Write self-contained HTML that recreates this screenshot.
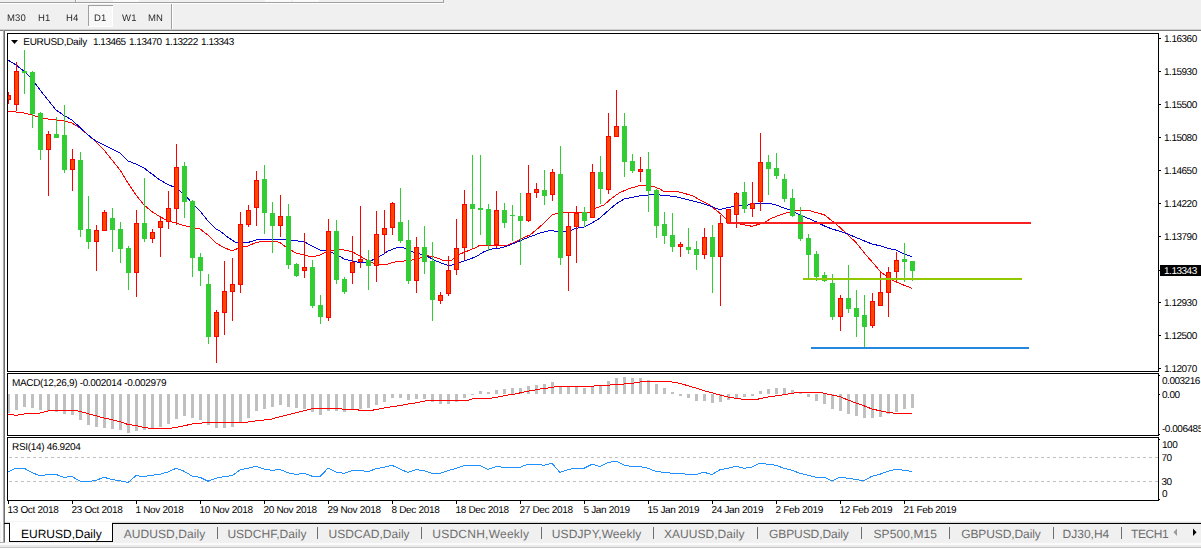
<!DOCTYPE html>
<html><head><meta charset="utf-8"><title>EURUSD,Daily</title>
<style>
html,body{margin:0;padding:0;}
body{width:1201px;height:549px;overflow:hidden;background:#f0f0f0;position:relative;font-family:"Liberation Sans",sans-serif;}
svg{position:absolute;left:0;top:0;}
.t{position:absolute;white-space:nowrap;line-height:1;font-family:"Liberation Sans",sans-serif;transform-origin:0 0;text-rendering:geometricPrecision;}
</style></head><body>
<svg width="1201" height="549" viewBox="0 0 1201 549">
<rect x="0" y="0" width="1201" height="549" fill="#f0f0f0"/>
<rect x="0" y="2" width="444" height="1" fill="#a0a0a0"/>
<rect x="0" y="3" width="444" height="1" fill="#ffffff"/>
<rect x="75" y="0" width="1" height="2" fill="#a0a0a0"/>
<rect x="76" y="0" width="1" height="2" fill="#ffffff"/>
<rect x="443" y="0" width="1" height="2" fill="#a0a0a0"/>
<rect x="113" y="0" width="26" height="2" fill="#fafafa"/>
<rect x="265" y="0" width="26" height="2" fill="#fafafa"/>
<rect x="293" y="0" width="26" height="2" fill="#fafafa"/>
<rect x="88" y="5" width="25" height="22" fill="#f8f8f8"/>
<rect x="88" y="5" width="25" height="1" fill="#a0a0a0"/>
<rect x="88" y="5" width="1" height="22" fill="#a0a0a0"/>
<rect x="88" y="26" width="25" height="1" fill="#ffffff"/>
<rect x="112" y="6" width="1" height="21" fill="#ffffff"/>
<rect x="171" y="4" width="1" height="25" fill="#a0a0a0"/>
<rect x="172" y="4" width="1" height="25" fill="#ffffff"/>
<rect x="0" y="29" width="1201" height="1" fill="#cfcfcf"/>
<rect x="0" y="30" width="1201" height="1" fill="#7a7a7a"/>
<rect x="0" y="31" width="1201" height="491" fill="#ffffff"/>
<rect x="1" y="31" width="2" height="511" fill="#fbfbfb"/>
<rect x="3" y="30" width="1" height="512" fill="#a8a8a8"/>
<rect x="4" y="31" width="1" height="511" fill="#6e6e6e"/>
<rect x="5" y="521" width="1196" height="1" fill="#f4f4f4"/>
<rect x="5" y="522" width="1196" height="1" fill="#d8d8d8"/>
<rect x="5" y="523" width="1196" height="26" fill="#f0f0f0"/>
<rect x="5" y="523" width="5" height="19" fill="#ffffff"/>
<rect x="4" y="523" width="6" height="1" fill="#000"/>
<rect x="112" y="523" width="1089" height="1" fill="#000"/>
<rect x="10" y="522" width="102" height="19" fill="#ffffff"/>
<rect x="9" y="523" width="1" height="19" fill="#000"/>
<rect x="112" y="523" width="1" height="19" fill="#000"/>
<rect x="9" y="541" width="104" height="1" fill="#000"/>
<rect x="0" y="542" width="5" height="1" fill="#b0b0b0"/>
<rect x="0" y="543" width="1201" height="2" fill="#fbfbfb"/>
<rect x="0" y="545" width="1201" height="2" fill="#eaeaea"/>
<rect x="0" y="547" width="1201" height="1" fill="#c4c4c4"/>
<rect x="0" y="548" width="1201" height="1" fill="#ffffff"/>
<rect x="217" y="527" width="1" height="12" fill="#6e6e6e"/>
<rect x="317" y="527" width="1" height="12" fill="#6e6e6e"/>
<rect x="421" y="527" width="1" height="12" fill="#6e6e6e"/>
<rect x="541" y="527" width="1" height="12" fill="#6e6e6e"/>
<rect x="653" y="527" width="1" height="12" fill="#6e6e6e"/>
<rect x="757" y="527" width="1" height="12" fill="#6e6e6e"/>
<rect x="861" y="527" width="1" height="12" fill="#6e6e6e"/>
<rect x="949" y="527" width="1" height="12" fill="#6e6e6e"/>
<rect x="1053" y="527" width="1" height="12" fill="#6e6e6e"/>
<rect x="1121" y="527" width="1" height="12" fill="#6e6e6e"/>
<path d="M1177 528.5 L1177 536 L1173.5 532.2 Z" fill="#9a9a9a"/>
<path d="M1193 528.5 L1193 536 L1196.5 532.2 Z" fill="#000"/>
<rect x="7" y="33" width="1152" height="1" fill="#000"/>
<rect x="7" y="371" width="1152" height="1" fill="#000"/>
<rect x="7" y="373" width="1152" height="1" fill="#000"/>
<rect x="7" y="435" width="1152" height="1" fill="#000"/>
<rect x="7" y="437" width="1152" height="1" fill="#000"/>
<rect x="7" y="500" width="1152" height="1" fill="#000"/>
<rect x="7" y="33" width="1" height="339" fill="#000"/>
<rect x="7" y="373" width="1" height="63" fill="#000"/>
<rect x="7" y="437" width="1" height="64" fill="#000"/>
<rect x="1158" y="33" width="1" height="339" fill="#000"/>
<rect x="1158" y="373" width="1" height="63" fill="#000"/>
<rect x="1158" y="437" width="1" height="64" fill="#000"/>
<rect x="1159" y="38" width="2" height="1" fill="#000"/>
<rect x="1159" y="71" width="2" height="1" fill="#000"/>
<rect x="1159" y="104" width="2" height="1" fill="#000"/>
<rect x="1159" y="137" width="2" height="1" fill="#000"/>
<rect x="1159" y="170" width="2" height="1" fill="#000"/>
<rect x="1159" y="203" width="2" height="1" fill="#000"/>
<rect x="1159" y="236" width="2" height="1" fill="#000"/>
<rect x="1159" y="302" width="2" height="1" fill="#000"/>
<rect x="1159" y="335" width="2" height="1" fill="#000"/>
<rect x="1159" y="368" width="2" height="1" fill="#000"/>
<rect x="1159" y="270" width="2" height="1" fill="#000"/>
<rect x="1159" y="375" width="1" height="1" fill="#000"/>
<rect x="1159" y="394" width="1" height="1" fill="#000"/>
<rect x="1159" y="434" width="1" height="1" fill="#000"/>
<rect x="1159" y="439" width="1" height="1" fill="#000"/>
<rect x="1159" y="499" width="1" height="1" fill="#000"/>
<rect x="8" y="501" width="1" height="3" fill="#000"/>
<rect x="72" y="501" width="1" height="3" fill="#000"/>
<rect x="136" y="501" width="1" height="3" fill="#000"/>
<rect x="200" y="501" width="1" height="3" fill="#000"/>
<rect x="264" y="501" width="1" height="3" fill="#000"/>
<rect x="328" y="501" width="1" height="3" fill="#000"/>
<rect x="392" y="501" width="1" height="3" fill="#000"/>
<rect x="456" y="501" width="1" height="3" fill="#000"/>
<rect x="520" y="501" width="1" height="3" fill="#000"/>
<rect x="584" y="501" width="1" height="3" fill="#000"/>
<rect x="648" y="501" width="1" height="3" fill="#000"/>
<rect x="712" y="501" width="1" height="3" fill="#000"/>
<rect x="776" y="501" width="1" height="3" fill="#000"/>
<rect x="840" y="501" width="1" height="3" fill="#000"/>
<rect x="904" y="501" width="1" height="3" fill="#000"/>
<path d="M11 40 L18 40 L14.5 44 Z" fill="#000"/>
<g shape-rendering="crispEdges">
<rect x="8" y="394" width="2" height="19" fill="#c0c0c0"/>
<rect x="15" y="394" width="3" height="16" fill="#c0c0c0"/>
<rect x="23" y="394" width="3" height="13" fill="#c0c0c0"/>
<rect x="31" y="394" width="3" height="14" fill="#c0c0c0"/>
<rect x="39" y="394" width="3" height="16" fill="#c0c0c0"/>
<rect x="47" y="394" width="3" height="17" fill="#c0c0c0"/>
<rect x="55" y="394" width="3" height="18" fill="#c0c0c0"/>
<rect x="63" y="394" width="3" height="20" fill="#c0c0c0"/>
<rect x="71" y="394" width="3" height="21" fill="#c0c0c0"/>
<rect x="79" y="394" width="3" height="26" fill="#c0c0c0"/>
<rect x="87" y="394" width="3" height="31" fill="#c0c0c0"/>
<rect x="95" y="394" width="3" height="33" fill="#c0c0c0"/>
<rect x="103" y="394" width="3" height="34" fill="#c0c0c0"/>
<rect x="111" y="394" width="3" height="35" fill="#c0c0c0"/>
<rect x="119" y="394" width="3" height="36" fill="#c0c0c0"/>
<rect x="127" y="394" width="3" height="39" fill="#c0c0c0"/>
<rect x="135" y="394" width="3" height="37" fill="#c0c0c0"/>
<rect x="143" y="394" width="3" height="36" fill="#c0c0c0"/>
<rect x="151" y="394" width="3" height="34" fill="#c0c0c0"/>
<rect x="159" y="394" width="3" height="33" fill="#c0c0c0"/>
<rect x="167" y="394" width="3" height="30" fill="#c0c0c0"/>
<rect x="175" y="394" width="3" height="25" fill="#c0c0c0"/>
<rect x="183" y="394" width="3" height="22" fill="#c0c0c0"/>
<rect x="191" y="394" width="3" height="24" fill="#c0c0c0"/>
<rect x="199" y="394" width="3" height="26" fill="#c0c0c0"/>
<rect x="207" y="394" width="3" height="31" fill="#c0c0c0"/>
<rect x="215" y="394" width="3" height="34" fill="#c0c0c0"/>
<rect x="223" y="394" width="3" height="34" fill="#c0c0c0"/>
<rect x="231" y="394" width="3" height="33" fill="#c0c0c0"/>
<rect x="239" y="394" width="3" height="28" fill="#c0c0c0"/>
<rect x="247" y="394" width="3" height="24" fill="#c0c0c0"/>
<rect x="255" y="394" width="3" height="17" fill="#c0c0c0"/>
<rect x="263" y="394" width="3" height="15" fill="#c0c0c0"/>
<rect x="271" y="394" width="3" height="13" fill="#c0c0c0"/>
<rect x="279" y="394" width="3" height="11" fill="#c0c0c0"/>
<rect x="287" y="394" width="3" height="13" fill="#c0c0c0"/>
<rect x="295" y="394" width="3" height="14" fill="#c0c0c0"/>
<rect x="303" y="394" width="3" height="15" fill="#c0c0c0"/>
<rect x="311" y="394" width="3" height="18" fill="#c0c0c0"/>
<rect x="319" y="394" width="3" height="21" fill="#c0c0c0"/>
<rect x="327" y="394" width="3" height="17" fill="#c0c0c0"/>
<rect x="335" y="394" width="3" height="17" fill="#c0c0c0"/>
<rect x="343" y="394" width="3" height="18" fill="#c0c0c0"/>
<rect x="351" y="394" width="3" height="16" fill="#c0c0c0"/>
<rect x="359" y="394" width="3" height="15" fill="#c0c0c0"/>
<rect x="367" y="394" width="3" height="14" fill="#c0c0c0"/>
<rect x="375" y="394" width="3" height="11" fill="#c0c0c0"/>
<rect x="383" y="394" width="3" height="8" fill="#c0c0c0"/>
<rect x="391" y="394" width="3" height="4" fill="#c0c0c0"/>
<rect x="399" y="394" width="3" height="4" fill="#c0c0c0"/>
<rect x="407" y="394" width="3" height="6" fill="#c0c0c0"/>
<rect x="415" y="394" width="3" height="5" fill="#c0c0c0"/>
<rect x="423" y="394" width="3" height="5" fill="#c0c0c0"/>
<rect x="431" y="394" width="3" height="8" fill="#c0c0c0"/>
<rect x="439" y="394" width="3" height="10" fill="#c0c0c0"/>
<rect x="447" y="394" width="3" height="10" fill="#c0c0c0"/>
<rect x="455" y="394" width="3" height="8" fill="#c0c0c0"/>
<rect x="463" y="394" width="3" height="4" fill="#c0c0c0"/>
<rect x="471" y="394" width="3" height="1" fill="#c0c0c0"/>
<rect x="479" y="391" width="3" height="3" fill="#c0c0c0"/>
<rect x="487" y="392" width="3" height="2" fill="#c0c0c0"/>
<rect x="495" y="390" width="3" height="4" fill="#c0c0c0"/>
<rect x="503" y="389" width="3" height="5" fill="#c0c0c0"/>
<rect x="511" y="388" width="3" height="6" fill="#c0c0c0"/>
<rect x="519" y="388" width="3" height="6" fill="#c0c0c0"/>
<rect x="527" y="386" width="3" height="8" fill="#c0c0c0"/>
<rect x="535" y="385" width="3" height="9" fill="#c0c0c0"/>
<rect x="543" y="384" width="3" height="10" fill="#c0c0c0"/>
<rect x="551" y="382" width="3" height="12" fill="#c0c0c0"/>
<rect x="559" y="387" width="3" height="7" fill="#c0c0c0"/>
<rect x="567" y="387" width="3" height="7" fill="#c0c0c0"/>
<rect x="575" y="387" width="3" height="7" fill="#c0c0c0"/>
<rect x="583" y="388" width="3" height="6" fill="#c0c0c0"/>
<rect x="591" y="387" width="3" height="7" fill="#c0c0c0"/>
<rect x="599" y="386" width="3" height="8" fill="#c0c0c0"/>
<rect x="607" y="381" width="3" height="13" fill="#c0c0c0"/>
<rect x="615" y="378" width="3" height="16" fill="#c0c0c0"/>
<rect x="623" y="377" width="3" height="17" fill="#c0c0c0"/>
<rect x="631" y="378" width="3" height="16" fill="#c0c0c0"/>
<rect x="639" y="378" width="3" height="16" fill="#c0c0c0"/>
<rect x="647" y="380" width="3" height="14" fill="#c0c0c0"/>
<rect x="655" y="384" width="3" height="10" fill="#c0c0c0"/>
<rect x="663" y="388" width="3" height="6" fill="#c0c0c0"/>
<rect x="671" y="392" width="3" height="2" fill="#c0c0c0"/>
<rect x="679" y="394" width="3" height="2" fill="#c0c0c0"/>
<rect x="687" y="394" width="3" height="4" fill="#c0c0c0"/>
<rect x="695" y="394" width="3" height="7" fill="#c0c0c0"/>
<rect x="703" y="394" width="3" height="7" fill="#c0c0c0"/>
<rect x="711" y="394" width="3" height="9" fill="#c0c0c0"/>
<rect x="719" y="394" width="3" height="8" fill="#c0c0c0"/>
<rect x="727" y="394" width="3" height="6" fill="#c0c0c0"/>
<rect x="735" y="394" width="3" height="4" fill="#c0c0c0"/>
<rect x="743" y="394" width="3" height="3" fill="#c0c0c0"/>
<rect x="751" y="394" width="3" height="2" fill="#c0c0c0"/>
<rect x="759" y="391" width="3" height="3" fill="#c0c0c0"/>
<rect x="767" y="389" width="3" height="5" fill="#c0c0c0"/>
<rect x="775" y="388" width="3" height="6" fill="#c0c0c0"/>
<rect x="783" y="388" width="3" height="6" fill="#c0c0c0"/>
<rect x="791" y="390" width="3" height="4" fill="#c0c0c0"/>
<rect x="799" y="393" width="3" height="1" fill="#c0c0c0"/>
<rect x="807" y="394" width="3" height="3" fill="#c0c0c0"/>
<rect x="815" y="394" width="3" height="7" fill="#c0c0c0"/>
<rect x="823" y="394" width="3" height="10" fill="#c0c0c0"/>
<rect x="831" y="394" width="3" height="15" fill="#c0c0c0"/>
<rect x="839" y="394" width="3" height="17" fill="#c0c0c0"/>
<rect x="847" y="394" width="3" height="20" fill="#c0c0c0"/>
<rect x="855" y="394" width="3" height="22" fill="#c0c0c0"/>
<rect x="863" y="394" width="3" height="24" fill="#c0c0c0"/>
<rect x="871" y="394" width="3" height="24" fill="#c0c0c0"/>
<rect x="879" y="394" width="3" height="23" fill="#c0c0c0"/>
<rect x="887" y="394" width="3" height="20" fill="#c0c0c0"/>
<rect x="895" y="394" width="3" height="18" fill="#c0c0c0"/>
<rect x="903" y="394" width="3" height="15" fill="#c0c0c0"/>
<rect x="911" y="394" width="3" height="14" fill="#c0c0c0"/>
<line x1="9" y1="457.5" x2="1158" y2="457.5" stroke="#c0c0c0" stroke-width="1" stroke-dasharray="3 3"/>
<line x1="9" y1="481.5" x2="1158" y2="481.5" stroke="#c0c0c0" stroke-width="1" stroke-dasharray="3 3"/>
</g>
<polyline points="8,111.0 16,112.0 24,113.0 32,115.0 40,117.5 48,119.0 56,120.0 64,121.0 72,123.0 80,128.0 88,135.0 96,141.7 104,150.0 112,160.0 120,170.0 128,183.0 136,195.0 144,205.0 152,211.7 160,216.7 168,221.0 176,223.0 184,225.5 192,227.5 200,229.0 208,235.0 216,243.0 224,247.5 232,251.0 240,247.5 248,246.0 256,242.5 264,241.0 272,241.5 276,241.5 280,242.5 284,245.5 288,248.5 296,253.0 304,255.0 312,257.0 320,255.0 328,251.0 336,249.7 344,250.0 352,251.7 360,256.0 368,261.0 376,264.0 384,264.5 388,264.0 396,261.7 404,261.0 412,260.0 420,258.0 428,255.8 436,257.5 444,260.8 452,260.0 460,254.0 468,250.8 476,247.5 480,245.0 488,245.0 496,245.0 504,245.8 508,245.0 516,241.7 524,237.5 530,235.0 540,226.7 547,220.0 552.5,214.5 558,213.3 563,212.5 590,212.5 596,208.0 604,205.0 612,198.0 620,192.5 628,189.0 636,186.7 640,185.5 648,185.3 654,186.7 660,189.0 664,191.7 668,191.3 676,191.3 684,193.3 692,195.5 700,200.0 708,204.0 716,210.0 722,215.0 726,219.0 730,222.5 740,224.0 752,226.3 760,224.0 764,222.5 772,218.0 780,215.0 788,212.5 796,210.5 804,210.3 810,210.8 816,212.5 824,214.7 832,220.8 840,227.5 848,235.0 856,242.5 864,252.5 872,261.8 880,271.0 884,274.6 888,276.5 892,280.0 896,282.0 900,283.5 904,285.2 908,286.6 912,288.5" fill="none" stroke="#ff0000" stroke-width="1" stroke-linejoin="round" shape-rendering="crispEdges"/>
<polyline points="8,60.0 16,65.0 24,71.0 32,79.0 40,90.0 48,100.0 56,110.0 64,115.5 72,120.0 80,127.5 88,135.0 96,141.0 104,145.0 112,149.0 120,153.0 128,161.0 136,164.0 144,168.0 152,174.0 160,180.0 168,184.5 176,188.0 184,194.0 192,203.0 200,211.0 208,221.0 216,229.0 220,231.0 228,237.5 236,242.5 240,243.0 248,242.5 256,240.0 264,239.7 272,239.7 280,239.0 288,240.0 296,240.8 304,241.7 312,246.0 320,250.0 328,251.0 336,254.0 344,259.0 352,261.0 360,262.5 368,262.5 376,258.0 384,254.0 388,251.0 396,248.0 400,247.0 404,248.0 412,251.7 420,254.0 428,256.7 436,261.0 444,264.0 448,265.3 452,265.0 460,262.5 468,259.7 476,256.7 484,251.7 492,249.0 500,248.0 508,245.8 516,242.5 524,239.0 532,236.0 540,233.0 548,231.0 552,230.8 560,231.7 568,232.0 572,230.0 576,228.3 584,227.0 592,223.0 600,218.0 608,210.8 616,204.0 624,199.0 632,197.5 640,195.8 648,195.0 654,194.0 660,195.0 668,195.8 676,196.7 684,198.7 692,200.8 700,202.8 708,205.3 714,207.5 717,208.6 720,209.8 723,208.8 726,208.0 732,206.8 740,205.3 748,205.0 756,203.7 764,203.5 768,203.0 776,205.0 784,208.0 792,210.8 800,215.0 808,218.3 816,221.7 824,225.8 832,229.0 840,231.3 848,234.0 856,237.5 864,240.8 872,244.0 880,245.8 888,248.3 896,250.0 904,254.0 912,256.7" fill="none" stroke="#0000d0" stroke-width="1" stroke-linejoin="round" shape-rendering="crispEdges"/>
<g shape-rendering="crispEdges">
<rect x="8" y="92" width="1" height="12" fill="#ff0000"/>
<rect x="8" y="95" width="3" height="5" fill="#ff0000"/>
<rect x="8" y="96" width="2" height="3" fill="#ff4500"/>
<rect x="16" y="62" width="1" height="49" fill="#ff0000"/>
<rect x="14" y="71" width="5" height="34" fill="#ff0000"/>
<rect x="15" y="72" width="3" height="32" fill="#ff4500"/>
<rect x="24" y="50" width="1" height="44" fill="#32cd32"/>
<rect x="22" y="71" width="5" height="2" fill="#32cd32"/>
<rect x="32" y="71" width="1" height="57" fill="#32cd32"/>
<rect x="30" y="72" width="5" height="42" fill="#32cd32"/>
<rect x="40" y="112" width="1" height="48" fill="#32cd32"/>
<rect x="38" y="113" width="5" height="37" fill="#32cd32"/>
<rect x="48" y="131" width="1" height="65" fill="#ff0000"/>
<rect x="46" y="134" width="5" height="16" fill="#ff0000"/>
<rect x="47" y="135" width="3" height="14" fill="#ff4500"/>
<rect x="56" y="117" width="1" height="21" fill="#32cd32"/>
<rect x="54" y="134" width="5" height="4" fill="#32cd32"/>
<rect x="64" y="105" width="1" height="68" fill="#32cd32"/>
<rect x="62" y="135" width="5" height="35" fill="#32cd32"/>
<rect x="72" y="149" width="1" height="42" fill="#ff0000"/>
<rect x="70" y="159" width="5" height="11" fill="#ff0000"/>
<rect x="71" y="160" width="3" height="9" fill="#ff4500"/>
<rect x="80" y="152" width="1" height="85" fill="#32cd32"/>
<rect x="78" y="160" width="5" height="70" fill="#32cd32"/>
<rect x="88" y="196" width="1" height="53" fill="#32cd32"/>
<rect x="86" y="229" width="5" height="13" fill="#32cd32"/>
<rect x="96" y="225" width="1" height="46" fill="#ff0000"/>
<rect x="94" y="230" width="5" height="12" fill="#ff0000"/>
<rect x="95" y="231" width="3" height="10" fill="#ff4500"/>
<rect x="104" y="210" width="1" height="21" fill="#ff0000"/>
<rect x="102" y="212" width="5" height="19" fill="#ff0000"/>
<rect x="103" y="213" width="3" height="17" fill="#ff4500"/>
<rect x="112" y="208" width="1" height="44" fill="#32cd32"/>
<rect x="110" y="218" width="5" height="12" fill="#32cd32"/>
<rect x="120" y="222" width="1" height="41" fill="#32cd32"/>
<rect x="118" y="229" width="5" height="20" fill="#32cd32"/>
<rect x="128" y="246" width="1" height="44" fill="#32cd32"/>
<rect x="126" y="248" width="5" height="25" fill="#32cd32"/>
<rect x="136" y="210" width="1" height="87" fill="#ff0000"/>
<rect x="134" y="223" width="5" height="50" fill="#ff0000"/>
<rect x="135" y="224" width="3" height="48" fill="#ff4500"/>
<rect x="144" y="178" width="1" height="64" fill="#32cd32"/>
<rect x="142" y="223" width="5" height="16" fill="#32cd32"/>
<rect x="152" y="229" width="1" height="14" fill="#ff0000"/>
<rect x="150" y="232" width="5" height="7" fill="#ff0000"/>
<rect x="151" y="233" width="3" height="5" fill="#ff4500"/>
<rect x="160" y="218" width="1" height="39" fill="#ff0000"/>
<rect x="158" y="221" width="5" height="7" fill="#ff0000"/>
<rect x="159" y="222" width="3" height="5" fill="#ff4500"/>
<rect x="168" y="191" width="1" height="38" fill="#ff0000"/>
<rect x="166" y="208" width="5" height="14" fill="#ff0000"/>
<rect x="167" y="209" width="3" height="12" fill="#ff4500"/>
<rect x="176" y="144" width="1" height="81" fill="#ff0000"/>
<rect x="174" y="167" width="5" height="42" fill="#ff0000"/>
<rect x="175" y="168" width="3" height="40" fill="#ff4500"/>
<rect x="184" y="162" width="1" height="56" fill="#32cd32"/>
<rect x="182" y="166" width="5" height="36" fill="#32cd32"/>
<rect x="192" y="200" width="1" height="77" fill="#32cd32"/>
<rect x="190" y="201" width="5" height="57" fill="#32cd32"/>
<rect x="200" y="253" width="1" height="33" fill="#32cd32"/>
<rect x="198" y="257" width="5" height="14" fill="#32cd32"/>
<rect x="208" y="274" width="1" height="70" fill="#32cd32"/>
<rect x="206" y="284" width="5" height="53" fill="#32cd32"/>
<rect x="216" y="310" width="1" height="53" fill="#ff0000"/>
<rect x="214" y="312" width="5" height="25" fill="#ff0000"/>
<rect x="215" y="313" width="3" height="23" fill="#ff4500"/>
<rect x="224" y="261" width="1" height="74" fill="#ff0000"/>
<rect x="222" y="291" width="5" height="22" fill="#ff0000"/>
<rect x="223" y="292" width="3" height="20" fill="#ff4500"/>
<rect x="232" y="258" width="1" height="63" fill="#ff0000"/>
<rect x="230" y="284" width="5" height="8" fill="#ff0000"/>
<rect x="231" y="285" width="3" height="6" fill="#ff4500"/>
<rect x="240" y="212" width="1" height="81" fill="#ff0000"/>
<rect x="238" y="224" width="5" height="61" fill="#ff0000"/>
<rect x="239" y="225" width="3" height="59" fill="#ff4500"/>
<rect x="248" y="205" width="1" height="22" fill="#ff0000"/>
<rect x="246" y="210" width="5" height="15" fill="#ff0000"/>
<rect x="247" y="211" width="3" height="13" fill="#ff4500"/>
<rect x="256" y="171" width="1" height="55" fill="#ff0000"/>
<rect x="254" y="180" width="5" height="28" fill="#ff0000"/>
<rect x="255" y="181" width="3" height="26" fill="#ff4500"/>
<rect x="264" y="165" width="1" height="69" fill="#32cd32"/>
<rect x="262" y="179" width="5" height="34" fill="#32cd32"/>
<rect x="272" y="202" width="1" height="51" fill="#32cd32"/>
<rect x="270" y="213" width="5" height="13" fill="#32cd32"/>
<rect x="280" y="195" width="1" height="42" fill="#ff0000"/>
<rect x="278" y="216" width="5" height="10" fill="#ff0000"/>
<rect x="279" y="217" width="3" height="8" fill="#ff4500"/>
<rect x="288" y="204" width="1" height="65" fill="#32cd32"/>
<rect x="286" y="216" width="5" height="49" fill="#32cd32"/>
<rect x="296" y="263" width="1" height="14" fill="#32cd32"/>
<rect x="294" y="264" width="5" height="12" fill="#32cd32"/>
<rect x="304" y="233" width="1" height="45" fill="#ff0000"/>
<rect x="302" y="267" width="5" height="4" fill="#ff0000"/>
<rect x="303" y="268" width="3" height="2" fill="#ff4500"/>
<rect x="312" y="260" width="1" height="48" fill="#32cd32"/>
<rect x="310" y="267" width="5" height="39" fill="#32cd32"/>
<rect x="320" y="295" width="1" height="29" fill="#32cd32"/>
<rect x="318" y="305" width="5" height="12" fill="#32cd32"/>
<rect x="328" y="219" width="1" height="102" fill="#ff0000"/>
<rect x="326" y="231" width="5" height="87" fill="#ff0000"/>
<rect x="327" y="232" width="3" height="85" fill="#ff4500"/>
<rect x="336" y="220" width="1" height="64" fill="#32cd32"/>
<rect x="334" y="231" width="5" height="49" fill="#32cd32"/>
<rect x="344" y="277" width="1" height="17" fill="#32cd32"/>
<rect x="342" y="279" width="5" height="13" fill="#32cd32"/>
<rect x="352" y="236" width="1" height="48" fill="#ff0000"/>
<rect x="350" y="262" width="5" height="11" fill="#ff0000"/>
<rect x="351" y="263" width="3" height="9" fill="#ff4500"/>
<rect x="360" y="206" width="1" height="62" fill="#ff0000"/>
<rect x="358" y="259" width="5" height="3" fill="#ff0000"/>
<rect x="359" y="260" width="3" height="1" fill="#ff4500"/>
<rect x="368" y="250" width="1" height="40" fill="#32cd32"/>
<rect x="366" y="260" width="5" height="6" fill="#32cd32"/>
<rect x="376" y="211" width="1" height="71" fill="#ff0000"/>
<rect x="374" y="234" width="5" height="32" fill="#ff0000"/>
<rect x="375" y="235" width="3" height="30" fill="#ff4500"/>
<rect x="384" y="210" width="1" height="43" fill="#ff0000"/>
<rect x="382" y="228" width="5" height="7" fill="#ff0000"/>
<rect x="383" y="229" width="3" height="5" fill="#ff4500"/>
<rect x="392" y="202" width="1" height="33" fill="#ff0000"/>
<rect x="390" y="203" width="5" height="25" fill="#ff0000"/>
<rect x="391" y="204" width="3" height="23" fill="#ff4500"/>
<rect x="400" y="188" width="1" height="55" fill="#32cd32"/>
<rect x="398" y="222" width="5" height="19" fill="#32cd32"/>
<rect x="408" y="220" width="1" height="64" fill="#32cd32"/>
<rect x="406" y="240" width="5" height="41" fill="#32cd32"/>
<rect x="416" y="237" width="1" height="56" fill="#ff0000"/>
<rect x="414" y="247" width="5" height="34" fill="#ff0000"/>
<rect x="415" y="248" width="3" height="32" fill="#ff4500"/>
<rect x="424" y="226" width="1" height="48" fill="#32cd32"/>
<rect x="422" y="247" width="5" height="15" fill="#32cd32"/>
<rect x="432" y="242" width="1" height="79" fill="#32cd32"/>
<rect x="430" y="261" width="5" height="39" fill="#32cd32"/>
<rect x="440" y="292" width="1" height="12" fill="#ff0000"/>
<rect x="438" y="295" width="5" height="6" fill="#ff0000"/>
<rect x="439" y="296" width="3" height="4" fill="#ff4500"/>
<rect x="448" y="256" width="1" height="40" fill="#ff0000"/>
<rect x="446" y="270" width="5" height="24" fill="#ff0000"/>
<rect x="447" y="271" width="3" height="22" fill="#ff4500"/>
<rect x="456" y="219" width="1" height="56" fill="#ff0000"/>
<rect x="454" y="248" width="5" height="22" fill="#ff0000"/>
<rect x="455" y="249" width="3" height="20" fill="#ff4500"/>
<rect x="464" y="190" width="1" height="70" fill="#ff0000"/>
<rect x="462" y="204" width="5" height="44" fill="#ff0000"/>
<rect x="463" y="205" width="3" height="42" fill="#ff4500"/>
<rect x="472" y="155" width="1" height="93" fill="#32cd32"/>
<rect x="470" y="204" width="5" height="5" fill="#32cd32"/>
<rect x="480" y="155" width="1" height="80" fill="#32cd32"/>
<rect x="478" y="208" width="5" height="2" fill="#32cd32"/>
<rect x="488" y="204" width="1" height="47" fill="#32cd32"/>
<rect x="486" y="209" width="5" height="36" fill="#32cd32"/>
<rect x="496" y="191" width="1" height="57" fill="#ff0000"/>
<rect x="494" y="210" width="5" height="35" fill="#ff0000"/>
<rect x="495" y="211" width="3" height="33" fill="#ff4500"/>
<rect x="504" y="203" width="1" height="25" fill="#32cd32"/>
<rect x="502" y="210" width="5" height="13" fill="#32cd32"/>
<rect x="512" y="205" width="1" height="36" fill="#32cd32"/>
<rect x="510" y="215" width="5" height="1" fill="#32cd32"/>
<rect x="520" y="193" width="1" height="72" fill="#32cd32"/>
<rect x="518" y="216" width="5" height="5" fill="#32cd32"/>
<rect x="528" y="165" width="1" height="57" fill="#ff0000"/>
<rect x="526" y="193" width="5" height="28" fill="#ff0000"/>
<rect x="527" y="194" width="3" height="26" fill="#ff4500"/>
<rect x="536" y="183" width="1" height="15" fill="#ff0000"/>
<rect x="534" y="189" width="5" height="4" fill="#ff0000"/>
<rect x="535" y="190" width="3" height="2" fill="#ff4500"/>
<rect x="544" y="170" width="1" height="35" fill="#32cd32"/>
<rect x="542" y="190" width="5" height="6" fill="#32cd32"/>
<rect x="552" y="169" width="1" height="32" fill="#ff0000"/>
<rect x="550" y="172" width="5" height="23" fill="#ff0000"/>
<rect x="551" y="173" width="3" height="21" fill="#ff4500"/>
<rect x="560" y="146" width="1" height="119" fill="#32cd32"/>
<rect x="558" y="174" width="5" height="84" fill="#32cd32"/>
<rect x="568" y="213" width="1" height="78" fill="#ff0000"/>
<rect x="566" y="226" width="5" height="30" fill="#ff0000"/>
<rect x="567" y="227" width="3" height="28" fill="#ff4500"/>
<rect x="576" y="206" width="1" height="57" fill="#ff0000"/>
<rect x="574" y="213" width="5" height="14" fill="#ff0000"/>
<rect x="575" y="214" width="3" height="12" fill="#ff4500"/>
<rect x="584" y="207" width="1" height="20" fill="#32cd32"/>
<rect x="582" y="212" width="5" height="9" fill="#32cd32"/>
<rect x="592" y="164" width="1" height="54" fill="#ff0000"/>
<rect x="590" y="172" width="5" height="46" fill="#ff0000"/>
<rect x="591" y="173" width="3" height="44" fill="#ff4500"/>
<rect x="600" y="156" width="1" height="48" fill="#32cd32"/>
<rect x="598" y="172" width="5" height="17" fill="#32cd32"/>
<rect x="608" y="113" width="1" height="81" fill="#ff0000"/>
<rect x="606" y="136" width="5" height="54" fill="#ff0000"/>
<rect x="607" y="137" width="3" height="52" fill="#ff4500"/>
<rect x="616" y="90" width="1" height="47" fill="#ff0000"/>
<rect x="614" y="126" width="5" height="11" fill="#ff0000"/>
<rect x="615" y="127" width="3" height="9" fill="#ff4500"/>
<rect x="624" y="113" width="1" height="64" fill="#32cd32"/>
<rect x="622" y="126" width="5" height="36" fill="#32cd32"/>
<rect x="632" y="154" width="1" height="19" fill="#32cd32"/>
<rect x="630" y="161" width="5" height="10" fill="#32cd32"/>
<rect x="640" y="157" width="1" height="25" fill="#ff0000"/>
<rect x="638" y="169" width="5" height="3" fill="#ff0000"/>
<rect x="639" y="170" width="3" height="1" fill="#ff4500"/>
<rect x="648" y="152" width="1" height="60" fill="#32cd32"/>
<rect x="646" y="169" width="5" height="22" fill="#32cd32"/>
<rect x="656" y="189" width="1" height="49" fill="#32cd32"/>
<rect x="654" y="190" width="5" height="36" fill="#32cd32"/>
<rect x="664" y="212" width="1" height="32" fill="#32cd32"/>
<rect x="662" y="224" width="5" height="12" fill="#32cd32"/>
<rect x="672" y="213" width="1" height="39" fill="#32cd32"/>
<rect x="670" y="235" width="5" height="12" fill="#32cd32"/>
<rect x="680" y="242" width="1" height="15" fill="#ff0000"/>
<rect x="678" y="244" width="5" height="3" fill="#ff0000"/>
<rect x="679" y="245" width="3" height="1" fill="#ff4500"/>
<rect x="688" y="228" width="1" height="26" fill="#32cd32"/>
<rect x="686" y="247" width="5" height="3" fill="#32cd32"/>
<rect x="696" y="241" width="1" height="29" fill="#32cd32"/>
<rect x="694" y="249" width="5" height="6" fill="#32cd32"/>
<rect x="704" y="228" width="1" height="31" fill="#ff0000"/>
<rect x="702" y="237" width="5" height="18" fill="#ff0000"/>
<rect x="703" y="238" width="3" height="16" fill="#ff4500"/>
<rect x="712" y="225" width="1" height="68" fill="#32cd32"/>
<rect x="710" y="237" width="5" height="20" fill="#32cd32"/>
<rect x="720" y="215" width="1" height="91" fill="#ff0000"/>
<rect x="718" y="223" width="5" height="34" fill="#ff0000"/>
<rect x="719" y="224" width="3" height="32" fill="#ff4500"/>
<rect x="728" y="209" width="1" height="14" fill="#ff0000"/>
<rect x="726" y="209" width="5" height="14" fill="#ff0000"/>
<rect x="727" y="210" width="3" height="12" fill="#ff4500"/>
<rect x="736" y="192" width="1" height="36" fill="#ff0000"/>
<rect x="734" y="193" width="5" height="22" fill="#ff0000"/>
<rect x="735" y="194" width="3" height="20" fill="#ff4500"/>
<rect x="744" y="182" width="1" height="31" fill="#32cd32"/>
<rect x="742" y="192" width="5" height="17" fill="#32cd32"/>
<rect x="752" y="182" width="1" height="35" fill="#ff0000"/>
<rect x="750" y="203" width="5" height="6" fill="#ff0000"/>
<rect x="751" y="204" width="3" height="4" fill="#ff4500"/>
<rect x="760" y="133" width="1" height="78" fill="#ff0000"/>
<rect x="758" y="162" width="5" height="40" fill="#ff0000"/>
<rect x="759" y="163" width="3" height="38" fill="#ff4500"/>
<rect x="768" y="155" width="1" height="40" fill="#32cd32"/>
<rect x="766" y="162" width="5" height="7" fill="#32cd32"/>
<rect x="776" y="153" width="1" height="26" fill="#32cd32"/>
<rect x="774" y="168" width="5" height="8" fill="#32cd32"/>
<rect x="784" y="174" width="1" height="28" fill="#32cd32"/>
<rect x="782" y="179" width="5" height="20" fill="#32cd32"/>
<rect x="792" y="189" width="1" height="28" fill="#32cd32"/>
<rect x="790" y="198" width="5" height="18" fill="#32cd32"/>
<rect x="800" y="207" width="1" height="34" fill="#32cd32"/>
<rect x="798" y="215" width="5" height="24" fill="#32cd32"/>
<rect x="808" y="234" width="1" height="44" fill="#32cd32"/>
<rect x="806" y="238" width="5" height="17" fill="#32cd32"/>
<rect x="816" y="251" width="1" height="30" fill="#32cd32"/>
<rect x="814" y="254" width="5" height="23" fill="#32cd32"/>
<rect x="824" y="272" width="1" height="10" fill="#32cd32"/>
<rect x="822" y="275" width="5" height="6" fill="#32cd32"/>
<rect x="832" y="274" width="1" height="46" fill="#32cd32"/>
<rect x="830" y="283" width="5" height="34" fill="#32cd32"/>
<rect x="840" y="295" width="1" height="36" fill="#ff0000"/>
<rect x="838" y="298" width="5" height="19" fill="#ff0000"/>
<rect x="839" y="299" width="3" height="17" fill="#ff4500"/>
<rect x="848" y="265" width="1" height="48" fill="#32cd32"/>
<rect x="846" y="298" width="5" height="11" fill="#32cd32"/>
<rect x="856" y="290" width="1" height="47" fill="#32cd32"/>
<rect x="854" y="308" width="5" height="9" fill="#32cd32"/>
<rect x="864" y="295" width="1" height="52" fill="#32cd32"/>
<rect x="862" y="315" width="5" height="12" fill="#32cd32"/>
<rect x="872" y="293" width="1" height="35" fill="#ff0000"/>
<rect x="870" y="301" width="5" height="25" fill="#ff0000"/>
<rect x="871" y="302" width="3" height="23" fill="#ff4500"/>
<rect x="880" y="272" width="1" height="34" fill="#ff0000"/>
<rect x="878" y="292" width="5" height="14" fill="#ff0000"/>
<rect x="879" y="293" width="3" height="12" fill="#ff4500"/>
<rect x="888" y="267" width="1" height="50" fill="#ff0000"/>
<rect x="886" y="272" width="5" height="21" fill="#ff0000"/>
<rect x="887" y="273" width="3" height="19" fill="#ff4500"/>
<rect x="896" y="252" width="1" height="30" fill="#ff0000"/>
<rect x="894" y="260" width="5" height="12" fill="#ff0000"/>
<rect x="895" y="261" width="3" height="10" fill="#ff4500"/>
<rect x="904" y="243" width="1" height="39" fill="#32cd32"/>
<rect x="902" y="259" width="5" height="3" fill="#32cd32"/>
<rect x="912" y="261" width="1" height="20" fill="#32cd32"/>
<rect x="910" y="261" width="5" height="10" fill="#32cd32"/>
<rect x="727" y="222" width="304" height="2" fill="#f82020"/>
<rect x="803" y="278" width="219" height="2" fill="#92c800"/>
<rect x="811" y="347" width="218" height="2" fill="#2488e0"/>
</g>
<polyline points="8,414.0 16,415.3 24,414.0 32,413.7 40,413.0 48,411.0 56,410.5 64,410.0 72,410.0 80,411.3 88,413.7 96,415.8 104,418.0 112,419.7 120,421.7 128,424.5 136,425.5 144,427.5 152,428.5 160,428.5 168,428.5 176,427.5 184,425.8 192,424.0 200,423.3 208,422.0 216,422.0 248,422.0 252,421.3 264,420.0 272,419.0 280,416.7 288,414.7 296,412.8 304,410.8 312,408.7 320,408.3 340,408.3 344,409.5 356,409.5 360,410.3 372,410.3 376,409.5 384,408.0 392,406.7 400,405.5 408,404.0 416,402.8 424,401.3 428,400.5 468,400.5 472,399.0 480,398.7 492,398.0 500,396.7 508,395.0 516,393.8 524,392.0 532,390.5 540,389.0 548,388.0 556,386.7 560,386.3 592,386.3 600,385.3 608,385.3 616,384.0 624,384.0 632,383.3 640,382.0 648,381.0 668,381.0 672,382.0 680,383.3 688,385.8 696,388.0 704,390.8 712,392.8 720,395.0 728,397.0 736,398.3 744,399.5 756,399.5 760,398.7 768,397.0 776,395.8 784,394.7 792,393.3 800,392.0 820,392.0 824,393.3 832,395.0 840,396.7 848,400.0 856,403.0 864,405.8 872,409.0 880,410.8 888,412.5 896,413.3 912,413.3" fill="none" stroke="#ff0000" stroke-width="1" stroke-linejoin="round" shape-rendering="crispEdges"/>
<polyline points="8,471.7 16,468.3 24,468.2 32,472.5 40,476.0 48,474.5 56,474.5 64,477.3 72,476.5 80,481.2 88,481.7 96,480.3 104,477.3 112,479.5 120,480.7 128,482.5 136,475.7 144,476.5 152,475.3 160,474.2 168,472.0 176,468.3 184,471.2 192,476.0 200,477.3 208,481.2 216,478.3 224,476.5 232,475.7 240,470.0 248,468.2 256,466.2 264,469.0 272,470.3 280,469.5 288,472.8 296,474.5 304,473.3 312,476.2 320,476.5 328,468.2 336,472.0 344,473.3 352,470.7 360,470.3 368,471.7 376,468.7 384,467.2 392,465.3 400,469.0 408,472.5 416,469.5 424,470.7 432,473.3 440,473.3 448,470.7 456,468.3 464,465.7 472,465.7 480,465.7 488,469.5 496,466.5 504,467.3 512,467.3 520,467.3 528,464.2 536,464.2 544,465.3 552,463.2 560,472.5 568,469.5 576,468.2 584,468.2 592,464.2 600,466.5 608,462.5 616,461.2 624,465.0 632,466.5 640,466.5 648,468.2 656,471.5 664,472.3 672,473.3 680,473.3 688,474.5 696,474.5 704,472.3 712,474.5 720,469.8 728,468.2 736,466.2 744,468.3 752,467.0 760,463.2 768,464.2 776,465.3 784,468.3 792,470.3 800,473.3 808,475.3 816,477.3 824,477.3 832,480.8 840,477.3 848,478.3 856,479.5 864,480.8 872,476.2 880,474.2 888,471.2 896,469.2 904,470.3 912,471.5" fill="none" stroke="#1e90ff" stroke-width="1" stroke-linejoin="round" shape-rendering="crispEdges"/>
<rect x="1160" y="265" width="41" height="11" fill="#000"/>
</svg>
<div class="t" style="left:7.4px;top:13.88px;font-size:9.5px;color:#2a2a2a;letter-spacing:0.2px;will-change:transform;">M30</div>
<div class="t" style="left:38.4px;top:13.88px;font-size:9.5px;color:#2a2a2a;letter-spacing:0.2px;will-change:transform;">H1</div>
<div class="t" style="left:65.6px;top:13.88px;font-size:9.5px;color:#2a2a2a;letter-spacing:0.2px;will-change:transform;">H4</div>
<div class="t" style="left:94.3px;top:13.88px;font-size:9.5px;color:#2a2a2a;letter-spacing:0.2px;will-change:transform;">D1</div>
<div class="t" style="left:122px;top:13.88px;font-size:9.5px;color:#2a2a2a;letter-spacing:0.2px;will-change:transform;">W1</div>
<div class="t" style="left:148.3px;top:13.88px;font-size:9.5px;color:#2a2a2a;letter-spacing:0.2px;will-change:transform;">MN</div>
<div class="t" style="left:23.3px;top:37.83px;font-size:10px;color:#000;letter-spacing:-0.3px;">EURUSD,Daily</div>
<div class="t" style="left:93px;top:37.83px;font-size:10px;color:#000;letter-spacing:-0.5px;word-spacing:1.1px;">1.13465 1.13470 1.13222 1.13343</div>
<div class="t" style="left:12px;top:378.82px;font-size:10px;color:#000;letter-spacing:-0.33px;">MACD(12,26,9) -0.002014 -0.002979</div>
<div class="t" style="left:12px;top:442.82px;font-size:10px;color:#000;letter-spacing:-0.32px;">RSI(14) 46.9204</div>
<div class="t" style="left:1164px;top:34.83px;font-size:10px;color:#000;letter-spacing:-0.48px;">1.16360</div>
<div class="t" style="left:1164px;top:67.83px;font-size:10px;color:#000;letter-spacing:-0.48px;">1.15930</div>
<div class="t" style="left:1164px;top:100.83px;font-size:10px;color:#000;letter-spacing:-0.48px;">1.15500</div>
<div class="t" style="left:1164px;top:133.82px;font-size:10px;color:#000;letter-spacing:-0.48px;">1.15080</div>
<div class="t" style="left:1164px;top:166.82px;font-size:10px;color:#000;letter-spacing:-0.48px;">1.14650</div>
<div class="t" style="left:1164px;top:199.82px;font-size:10px;color:#000;letter-spacing:-0.48px;">1.14220</div>
<div class="t" style="left:1164px;top:232.82px;font-size:10px;color:#000;letter-spacing:-0.48px;">1.13790</div>
<div class="t" style="left:1164px;top:298.82px;font-size:10px;color:#000;letter-spacing:-0.48px;">1.12930</div>
<div class="t" style="left:1164px;top:331.82px;font-size:10px;color:#000;letter-spacing:-0.48px;">1.12500</div>
<div class="t" style="left:1164px;top:364.82px;font-size:10px;color:#000;letter-spacing:-0.48px;">1.12070</div>
<div class="t" style="left:1164px;top:266.82px;font-size:10px;color:#fff;letter-spacing:-0.48px;">1.13343</div>
<div class="t" style="left:1162px;top:376.82px;font-size:10px;color:#000;letter-spacing:-0.48px;">0.003216</div>
<div class="t" style="left:1162px;top:390.82px;font-size:10px;color:#000;letter-spacing:-0.48px;">0.00</div>
<div class="t" style="left:1162px;top:424.82px;font-size:10px;color:#000;letter-spacing:-0.48px;">-0.006485</div>
<div class="t" style="left:1162px;top:440.82px;font-size:10px;color:#000;letter-spacing:-0.48px;">100</div>
<div class="t" style="left:1161.5px;top:453.82px;font-size:10px;color:#000;letter-spacing:-0.48px;">70</div>
<div class="t" style="left:1161.5px;top:477.82px;font-size:10px;color:#000;letter-spacing:-0.48px;">30</div>
<div class="t" style="left:1162px;top:489.82px;font-size:10px;color:#000;letter-spacing:-0.48px;">0</div>
<div class="t" style="left:7.4px;top:505.82px;font-size:10px;color:#000;letter-spacing:-0.3px;">13 Oct 2018</div>
<div class="t" style="left:71.4px;top:505.82px;font-size:10px;color:#000;letter-spacing:-0.3px;">23 Oct 2018</div>
<div class="t" style="left:135.4px;top:505.82px;font-size:10px;color:#000;letter-spacing:-0.3px;">1 Nov 2018</div>
<div class="t" style="left:199.4px;top:505.82px;font-size:10px;color:#000;letter-spacing:-0.3px;">10 Nov 2018</div>
<div class="t" style="left:263.4px;top:505.82px;font-size:10px;color:#000;letter-spacing:-0.3px;">20 Nov 2018</div>
<div class="t" style="left:327.4px;top:505.82px;font-size:10px;color:#000;letter-spacing:-0.3px;">29 Nov 2018</div>
<div class="t" style="left:391.4px;top:505.82px;font-size:10px;color:#000;letter-spacing:-0.3px;">8 Dec 2018</div>
<div class="t" style="left:455.4px;top:505.82px;font-size:10px;color:#000;letter-spacing:-0.3px;">18 Dec 2018</div>
<div class="t" style="left:519.4px;top:505.82px;font-size:10px;color:#000;letter-spacing:-0.3px;">27 Dec 2018</div>
<div class="t" style="left:583.4px;top:505.82px;font-size:10px;color:#000;letter-spacing:-0.3px;">5 Jan 2019</div>
<div class="t" style="left:647.4px;top:505.82px;font-size:10px;color:#000;letter-spacing:-0.3px;">15 Jan 2019</div>
<div class="t" style="left:711.4px;top:505.82px;font-size:10px;color:#000;letter-spacing:-0.3px;">24 Jan 2019</div>
<div class="t" style="left:775.4px;top:505.82px;font-size:10px;color:#000;letter-spacing:-0.3px;">2 Feb 2019</div>
<div class="t" style="left:839.4px;top:505.82px;font-size:10px;color:#000;letter-spacing:-0.3px;">12 Feb 2019</div>
<div class="t" style="left:903.4px;top:505.82px;font-size:10px;color:#000;letter-spacing:-0.3px;">21 Feb 2019</div>
<div class="t" style="left:21px;top:527.59px;font-size:12px;color:#000;letter-spacing:0px;">EURUSD,Daily</div>
<div class="t" style="left:123.7px;top:527.59px;font-size:12px;color:#6e6e6e;letter-spacing:0.08px;">AUDUSD,Daily</div>
<div class="t" style="left:227.4px;top:527.59px;font-size:12px;color:#6e6e6e;letter-spacing:0.03px;">USDCHF,Daily</div>
<div class="t" style="left:328.6px;top:527.59px;font-size:12px;color:#6e6e6e;letter-spacing:0.03px;">USDCAD,Daily</div>
<div class="t" style="left:432.3px;top:527.59px;font-size:12px;color:#6e6e6e;letter-spacing:0.24px;">USDCNH,Weekly</div>
<div class="t" style="left:551.8px;top:527.59px;font-size:12px;color:#6e6e6e;letter-spacing:0.1px;">USDJPY,Weekly</div>
<div class="t" style="left:664px;top:527.59px;font-size:12px;color:#6e6e6e;letter-spacing:0.04px;">XAUUSD,Daily</div>
<div class="t" style="left:769px;top:527.59px;font-size:12px;color:#6e6e6e;letter-spacing:-0.08px;">GBPUSD,Daily</div>
<div class="t" style="left:873.5px;top:527.59px;font-size:12px;color:#6e6e6e;letter-spacing:0.1px;">SP500,M15</div>
<div class="t" style="left:961.2px;top:527.59px;font-size:12px;color:#6e6e6e;letter-spacing:-0.1px;">GBPUSD,Daily</div>
<div class="t" style="left:1062.6px;top:527.59px;font-size:12px;color:#6e6e6e;letter-spacing:0px;">DJ30,H4</div>
<div class="t" style="left:1131px;top:527.59px;font-size:12px;color:#6e6e6e;letter-spacing:-0.4px;">TECH1</div>
</body></html>
